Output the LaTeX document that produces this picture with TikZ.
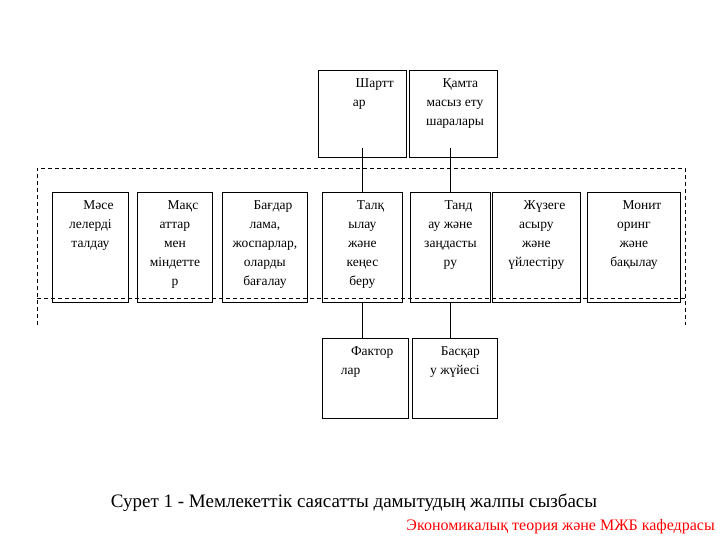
\documentclass[tikz,border=0pt]{standalone}
\usepackage{fontspec}
\setmainfont{Liberation Serif}
\begin{document}
\begin{tikzpicture}[x=1pt,y=-1pt,
  bx/.style={draw,line width=0.8pt,minimum width=#1,inner sep=0pt,anchor=north west},
  tx/.style={anchor=north,align=center,font=\fontsize{13.5}{19}\selectfont,inner sep=0pt},
  dsh/.style={dashed,line width=0.6pt,dash pattern=on 4pt off 3pt},
  ln/.style={line width=0.8pt}]
\useasboundingbox (0,0) rectangle (720,540);
% dashed frame
\draw[dsh] (37,325) -- (37,168) -- (685,168) -- (685,325);
\draw[dsh] (37,298) -- (685,298);
% top boxes
\node[bx=88pt,minimum height=87pt] (sh) at (318,70) {};
\node[bx=88pt,minimum height=87pt] (qa) at (409,70) {};
\node[tx] at (370,78) {\hspace*{0.7em}Шартт\\ар\hspace*{1.6em}};
\node[tx] at (455,78) {\hspace*{0.8em}Қамта\\масыз ету\\шаралары};
% middle row
\node[bx=76pt,minimum height=110pt] (m1) at (52,192) {};
\node[bx=75pt,minimum height=110pt] (m2) at (137,192) {};
\node[bx=85pt,minimum height=110pt] (m3) at (222,192) {};
\node[bx=80pt,minimum height=110pt] (m4) at (322,192) {};
\node[bx=80pt,minimum height=110pt] (m5) at (410,192) {};
\node[bx=88pt,minimum height=110pt] (m6) at (492,192) {};
\node[bx=93pt,minimum height=110pt] (m7) at (587,192) {};
\node[tx] at (m1.north) [yshift=-8pt] {\hspace*{1.2em}Мәсе\\лелерді\\талдау};
\node[tx] at (m2.north) [yshift=-8pt] {\hspace*{1.2em}Мақс\\аттар\\мен\\міндетте\\р};
\node[tx] at (m3.north) [yshift=-8pt] {\hspace*{1.2em}Бағдар\\лама,\\жоспарлар,\\оларды\\бағалау};
\node[tx] at (m4.north) [yshift=-8pt] {\hspace*{1.2em}Талқ\\ылау\\және\\кеңес\\беру};
\node[tx] at (m5.north) [yshift=-8pt] {\hspace*{1.2em}Танд\\ау және\\заңдасты\\ру};
\node[tx] at (m6.north) [yshift=-8pt] {\hspace*{1.2em}Жүзеге\\асыру\\және\\үйлестіру};
\node[tx] at (m7.north) [yshift=-8pt] {\hspace*{1.2em}Монит\\оринг\\және\\бақылау};
% bottom boxes
\node[bx=86pt,minimum height=80pt] (fa) at (322,338) {};
\node[bx=85pt,minimum height=80pt] (ba) at (412,338) {};
\node[tx] at (fa.north) [yshift=-8pt] {\hspace*{1.0em}Фактор\\лар\hspace*{2.2em}};
\node[tx] at (ba.north) [yshift=-8pt] {\hspace*{0.8em}Басқар\\у жүйесі};
% connectors
\draw[ln] (m4.north |- 0,148) -- (m4.north);
\draw[ln] (m5.north |- 0,148) -- (m5.north);
\draw[ln] (m4.south) -- (fa.north -| m4.south);
\draw[ln] (m5.south) -- (ba.north -| m5.south);
% captions
\node[anchor=base,font=\fontsize{19}{22}\selectfont,inner sep=0pt] (cap) at (354,507) {Сурет 1 - Мемлекеттік саясатты дамытудың жалпы сызбасы};
\node[anchor=base east,font=\fontsize{16}{18}\selectfont,text=red,inner sep=0pt] (dep) at (715,530) {Экономикалық теория және МЖБ кафедрасы};
\end{tikzpicture}
\end{document}
